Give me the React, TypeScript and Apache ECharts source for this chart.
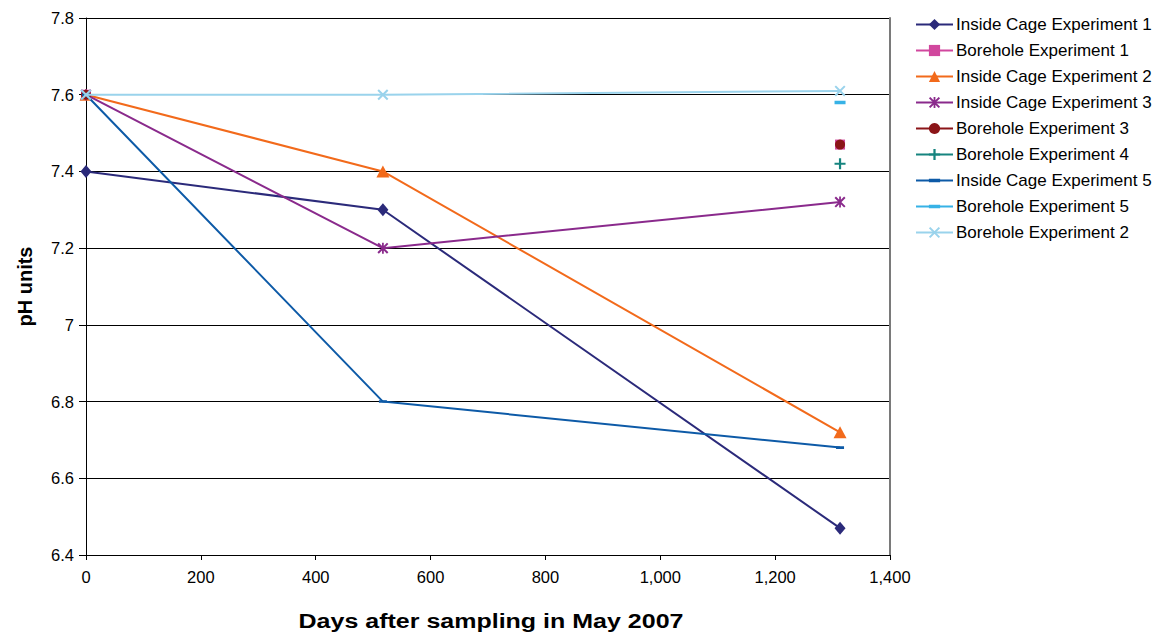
import React, { useEffect, useRef } from "react";
import * as echarts from "echarts";

const days = [0, 517, 1313];
const seriesNames = [
  "Inside Cage Experiment 1",
  "Borehole Experiment 1",
  "Inside Cage Experiment 2",
  "Inside Cage Experiment 3",
  "Borehole Experiment 3",
  "Borehole Experiment 4",
  "Inside Cage Experiment 5",
  "Borehole Experiment 5",
  "Borehole Experiment 2",
];
const insideCage1 = [7.4, 7.3, 6.47];
const borehole1 = [7.6, null, 7.47];
const insideCage2 = [7.6, 7.4, 6.72];
const insideCage3 = [7.6, 7.2, 7.32];
const borehole3 = [7.6, null, 7.47];
const borehole4 = [null, null, 7.42];
const insideCage5 = [7.6, 6.8, 6.68];
const borehole5 = [null, null, 7.58];
const borehole2 = [7.6, 7.6, 7.61];
const yTicks = [6.4, 6.6, 6.8, 7, 7.2, 7.4, 7.6, 7.8];
const xTicks = [0, 200, 400, 600, 800, 1000, 1200, 1400];
const xTitle = "Days after sampling in May 2007";
const yTitle = "pH units";

const X_PATH =
  "path://M0,1.3 L1.3,0 L10,8.7 L8.7,10 Z M8.7,0 L10,1.3 L1.3,10 L0,8.7 Z";
const STAR_PATH =
  "path://M0,1.3 L1.3,0 L10,8.7 L8.7,10 Z M8.7,0 L10,1.3 L1.3,10 L0,8.7 Z M4.2,0 L5.8,0 L5.8,10 L4.2,10 Z";
const PLUS_PATH = "path://M4,0 L6,0 L6,10 L4,10 Z M0,4 L10,4 L10,6 L0,6 Z";
// a dash inside a 10x10 box (tiny corner specks keep the square bounding box)
const DASH_PATH =
  "path://M0,0 L0.01,0 L0.01,0.01 Z M0,3.4 L10,3.4 L10,6.6 L0,6.6 Z M9.99,9.99 L10,9.99 L10,10 Z";

const seriesData = [
  insideCage1,
  borehole1,
  insideCage2,
  insideCage3,
  borehole3,
  borehole4,
  insideCage5,
  borehole5,
  borehole2,
];
const colors = [
  "#2B2A7A",
  "#D1479E",
  "#F26A1B",
  "#8A2A8C",
  "#8B1518",
  "#16847F",
  "#0D5AA7",
  "#37B2E6",
  "#9AD3EC",
];
const symbols: any[] = [
  "diamond",
  "rect",
  "triangle",
  STAR_PATH,
  "circle",
  PLUS_PATH,
  DASH_PATH,
  DASH_PATH,
  X_PATH,
];
const symbolSizes: any[] = [
  [11, 13],
  10,
  [13, 12],
  11,
  10,
  11,
  8,
  11,
  11,
];

export default function App() {
  const ref = useRef<HTMLDivElement>(null);
  useEffect(() => {
    if (!ref.current) return;
    const chart = echarts.init(ref.current, null, { renderer: "svg" });
    const font = "'Liberation Sans', Arial, sans-serif";
    chart.setOption({
      animation: false,
      backgroundColor: "#ffffff",
      textStyle: { fontFamily: font },
      grid: {
        left: 86,
        top: 18,
        width: 804,
        height: 537,
        show: false,
      },
      legend: {
        orient: "vertical",
        left: 915,
        top: 16,
        padding: 0,
        itemWidth: 37,
        itemHeight: 14,
        itemGap: 9,
        data: seriesNames,
        lineStyle: { width: 2 },
        textStyle: { fontSize: 17, color: "#000", fontFamily: font, padding: [0, 0, 0, -2] },
      },
      graphic: [
        {
          type: "text",
          x: 491,
          y: 621,
          scaleX: 1.22,
          style: {
            text: xTitle,
            align: "center",
            verticalAlign: "middle",
            font: "bold 20.5px 'Liberation Sans', Arial, sans-serif",
            fill: "#000",
          },
        },
      ],
      xAxis: {
        type: "value",
        min: xTicks[0],
        max: xTicks[xTicks.length - 1],
        interval: 200,
        axisLine: { show: true, lineStyle: { color: "#000", width: 1 } },
        axisTick: { show: true, inside: false, length: 5, lineStyle: { color: "#000" } },
        axisLabel: {
          fontSize: 16.5,
          color: "#000",
          margin: 13,
          fontFamily: font,
          formatter: (v: number) => v.toLocaleString("en-US"),
        },
        splitLine: { show: false },
      },
      yAxis: [
        {
          type: "value",
          min: yTicks[0],
          max: yTicks[yTicks.length - 1],
          interval: 0.2,
          name: yTitle,
          nameLocation: "middle",
          nameGap: 51,
          nameRotate: 90,
          nameTextStyle: { fontSize: 20, fontWeight: "bold", color: "#000", fontFamily: font },
          axisLine: { show: true, lineStyle: { color: "#000", width: 1 } },
          axisTick: { show: true, inside: false, length: 7, lineStyle: { color: "#000" } },
          axisLabel: {
            fontSize: 16.5,
            color: "#000",
            margin: 12,
            fontFamily: font,
            formatter: (v: number) => String(Math.round(v * 10) / 10),
          },
          splitLine: { show: true, lineStyle: { color: "#000", width: 1 } },
        },
        {
          type: "value",
          position: "right",
          min: yTicks[0],
          max: yTicks[yTicks.length - 1],
          interval: 0.2,
          axisLine: { show: true, lineStyle: { color: "#7a7a7a", width: 2 } },
          axisTick: { show: false },
          axisLabel: { show: false },
          splitLine: { show: false },
        },
      ],
      series: seriesNames.map((name, i) => ({
        name,
        type: "line",
        yAxisIndex: 0,
        data: days.map((d, j) => [d, seriesData[i][j]]),
        connectNulls: false,
        color: colors[i],
        symbol: symbols[i],
        symbolSize: symbolSizes[i],
        showSymbol: true,
        showAllSymbol: true,
        lineStyle: { width: 2, color: colors[i] },
        itemStyle: { color: colors[i], borderWidth: 0 },
        emphasis: { disabled: true },
        z: 2 + i,
      })),
    });
    return () => chart.dispose();
  }, []);
  return (
    <div
      ref={ref}
      style={{ position: "fixed", left: 0, top: 0, width: 1160, height: 635 }}
    />
  );
}
